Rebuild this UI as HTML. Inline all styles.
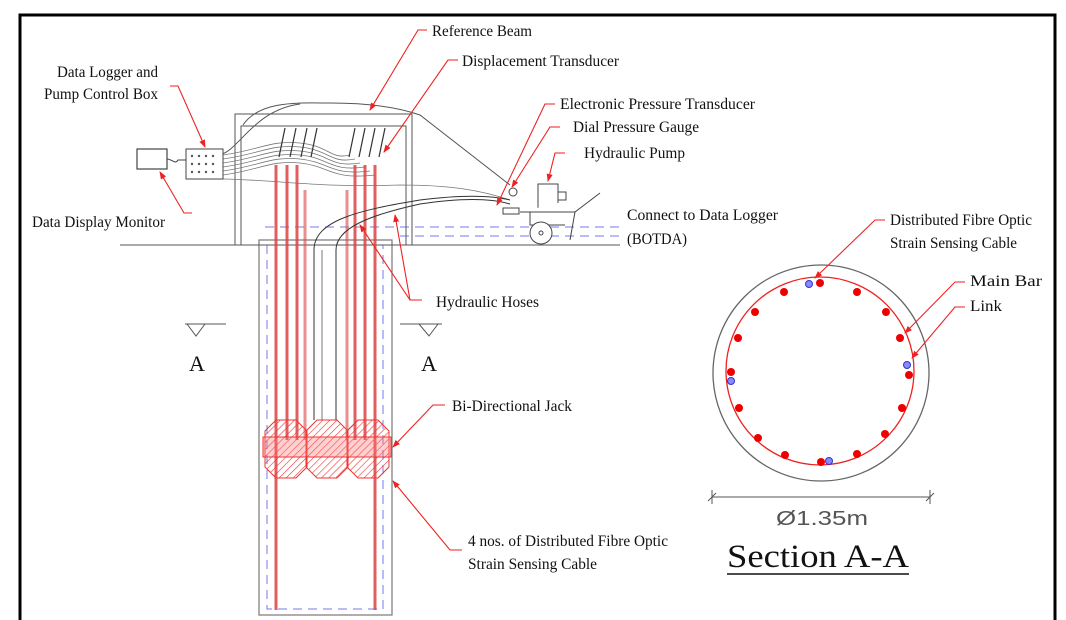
<!DOCTYPE html>
<html><head><meta charset="utf-8"><style>
html,body{margin:0;padding:0;background:#fff;}
svg{display:block;}
text{font-family:"Liberation Serif",serif;fill:#111;}
</style></head><body>
<svg width="1066" height="620" viewBox="0 0 1066 620" xmlns="http://www.w3.org/2000/svg">
<defs>
<pattern id="hatch" width="5" height="5" patternUnits="userSpaceOnUse" patternTransform="rotate(45)">
<line x1="0" y1="0" x2="0" y2="5" stroke="#e33" stroke-width="1.2"/>
</pattern>
<marker id="ar" markerWidth="8" markerHeight="6" refX="7" refY="3" orient="auto" markerUnits="userSpaceOnUse">
<path d="M0,0 L8,3 L0,6 z" fill="#e22"/>
</marker>
</defs>
<rect x="0" y="0" width="1066" height="620" fill="#fff"/>
<path d="M20,620 V15 H1055 V620" fill="none" stroke="#000" stroke-width="3"/>

<line x1="120" y1="245" x2="620" y2="245" stroke="#555" stroke-width="1"/>
<g stroke="#77e" stroke-width="1" stroke-dasharray="9,6" fill="none">
<line x1="265" y1="227" x2="620" y2="227"/>
<line x1="400" y1="236" x2="620" y2="236"/>
<path d="M267,245 V609 H383 V245"/>
</g>
<rect x="259" y="240" width="133" height="375" fill="none" stroke="#777" stroke-width="1.2"/>
<g fill="none" stroke="#555" stroke-width="1">
<rect x="235" y="114" width="177" height="131"/>
<path d="M241,245 V126 H406 V245"/>
<path d="M243,125 C260,100 300,103 330,103 C370,103 400,108 420,115 L510,185"/>
<path d="M222,154 C240,148 255,110 300,104"/>
</g>
<g fill="none" stroke="#777" stroke-width="0.8">
<path d="M223,155 C260,150 270,140 300,143 C330,146 330,160 350,155"/>
<path d="M223,159 C260,154 270,144 300,147 C330,150 330,164 355,159"/>
<path d="M223,163 C260,158 270,148 300,151 C330,154 330,168 360,163"/>
<path d="M223,167 C260,162 270,152 300,155 C330,158 330,172 365,167"/>
<path d="M223,171 C260,166 270,156 300,159 C330,162 330,176 370,171"/>
<path d="M223,175 C260,170 270,160 300,163 C330,166 330,180 375,175"/>
<path d="M223,179 C280,180 320,188 400,185 C450,185 480,190 510,200"/>
</g>
<g stroke="#333" stroke-width="1.2" fill="none">
<line x1="279" y1="157" x2="285" y2="128"/><line x1="290" y1="157" x2="296" y2="128"/>
<line x1="301" y1="157" x2="307" y2="128"/><line x1="311" y1="157" x2="317" y2="128"/>
<line x1="349" y1="157" x2="355" y2="128"/><line x1="359" y1="157" x2="365" y2="128"/>
<line x1="369" y1="157" x2="375" y2="128"/><line x1="379" y1="157" x2="385" y2="128"/>
</g>
<g stroke="#d44" fill="none" opacity="0.85">
<line x1="276" y1="165" x2="276" y2="610" stroke-width="3"/>
<line x1="287" y1="165" x2="287" y2="440" stroke-width="3"/>
<line x1="297" y1="165" x2="297" y2="440" stroke-width="3"/>
<line x1="305" y1="190" x2="305" y2="440" stroke-width="3" opacity=".7"/>
<line x1="347" y1="190" x2="347" y2="440" stroke-width="3" opacity=".7"/>
<line x1="355" y1="165" x2="355" y2="440" stroke-width="3"/>
<line x1="365" y1="165" x2="365" y2="440" stroke-width="3"/>
<line x1="375" y1="165" x2="375" y2="610" stroke-width="3"/>
</g>
<g fill="none" stroke="#333" stroke-width="1">
<path d="M314,420 V250 C314,220 360,210 420,200 C460,195 490,195 510,200"/>
<path d="M336,420 V250 C336,228 370,215 420,204 C460,198 490,198 510,204"/>
<line x1="322" y1="250" x2="322" y2="420" stroke="#777"/>
</g>
<g stroke="#e33" stroke-width="1" fill="url(#hatch)">
<path d="M276,420 H296 L307,431 V467 L296,478 H276 L265,467 V431 Z"/>
<path d="M317,420 H337 L348,431 V467 L337,478 H317 L306,467 V431 Z"/>
<path d="M358,420 H378 L389,431 V467 L378,478 H358 L347,467 V431 Z"/>
<rect x="263" y="437" width="128" height="20" fill="rgba(255,120,120,0.35)"/>
</g>
<rect x="137" y="149" width="30" height="20" fill="#fff" stroke="#444" stroke-width="1.2"/>
<path d="M167,159 C172,159 175,165 178,160 L186,160" fill="none" stroke="#444"/>
<rect x="186" y="149" width="37" height="30" fill="#fff" stroke="#444"/>
<g fill="#555">
<circle cx="192" cy="156" r="1.2"/><circle cx="199" cy="156" r="1.2"/><circle cx="206" cy="156" r="1.2"/><circle cx="213" cy="156" r="1.2"/>
<circle cx="192" cy="164" r="1.2"/><circle cx="199" cy="164" r="1.2"/><circle cx="206" cy="164" r="1.2"/><circle cx="213" cy="164" r="1.2"/>
<circle cx="192" cy="172" r="1.2"/><circle cx="199" cy="172" r="1.2"/><circle cx="206" cy="172" r="1.2"/><circle cx="213" cy="172" r="1.2"/>
</g>
<g fill="#fff" stroke="#444" stroke-width="1">
<rect x="538" y="184" width="20" height="24"/>
<rect x="558" y="192" width="8" height="8"/>
<rect x="503" y="208" width="16" height="6"/>
<circle cx="513" cy="192" r="4"/>
<path d="M520,212 H575 L600,193 M575,212 L570,240 M530,212 L530,225 H565"/>
<circle cx="541" cy="233" r="11"/>
<circle cx="541" cy="233" r="2"/>
</g>

<g stroke="#555" fill="none">
<line x1="185" y1="324" x2="226" y2="324"/><path d="M187,324 L196,336 L205,324"/>
<line x1="400" y1="324" x2="442" y2="324"/><path d="M419,324 L429,336 L438,324"/>
</g>
<text x="189" y="371" font-size="22">A</text>
<text x="421" y="371" font-size="22">A</text>

<circle cx="821" cy="373" r="108" fill="none" stroke="#666" stroke-width="1.3"/>
<circle cx="820" cy="371" r="94" fill="none" stroke="#e22" stroke-width="1.3"/>
<g fill="#e00">
<circle cx="820" cy="283" r="4"/><circle cx="784" cy="292" r="4"/><circle cx="857" cy="292" r="4"/>
<circle cx="755" cy="312" r="4"/><circle cx="886" cy="312" r="4"/>
<circle cx="738" cy="338" r="4"/><circle cx="900" cy="338" r="4"/>
<circle cx="731" cy="372" r="4"/><circle cx="909" cy="375" r="4"/>
<circle cx="739" cy="408" r="4"/><circle cx="902" cy="408" r="4"/>
<circle cx="758" cy="438" r="4"/><circle cx="885" cy="434" r="4"/>
<circle cx="785" cy="455" r="4"/><circle cx="857" cy="454" r="4"/>
<circle cx="821" cy="462" r="4"/>
</g>
<g fill="#88f" stroke="#33c" stroke-width="1">
<circle cx="809" cy="284" r="3.5"/><circle cx="907" cy="365" r="3.5"/>
<circle cx="731" cy="381" r="3.5"/><circle cx="829" cy="461" r="3.5"/>
</g>
<g stroke="#555" fill="none">
<line x1="712" y1="497" x2="930" y2="497"/>
<line x1="712" y1="490" x2="712" y2="504"/><line x1="930" y1="490" x2="930" y2="504"/>
<line x1="708" y1="501" x2="716" y2="493"/><line x1="926" y1="501" x2="934" y2="493"/>
</g>
<text x="776" y="525" font-size="20" fill="#555" style="font-family:'Liberation Sans',sans-serif;fill:#555" textLength="92" lengthAdjust="spacingAndGlyphs">Ø1.35m</text>
<text x="727" y="567" font-size="33" textLength="182" lengthAdjust="spacingAndGlyphs">Section A-A</text>
<line x1="727" y1="574" x2="909" y2="574" stroke="#111" stroke-width="1.5"/>

<g stroke="#e22" stroke-width="1.1" fill="none" marker-end="url(#ar)">
<path d="M427,30 H418 L370,110"/>
<path d="M458,60 H448 L384,152"/>
<path d="M170,86 H178 L205,147"/>
<path d="M192,213 H184 L160,172"/>
<path d="M555,104 H545 L497,205"/>
<path d="M560,127 H550 L512,187"/>
<path d="M565,153 H555 L548,181"/>
<path d="M422,300 H410 L360,225"/>
<path d="M422,300 H410 L395,215"/>
<path d="M445,405 H433 L393,447"/>
<path d="M462,550 H450 L393,481"/>
<path d="M885,220 H875 L815,278"/>
<path d="M965,282 H955 L905,333"/>
<path d="M965,307 H955 L912,358"/>
</g>

<g font-size="16" lengthAdjust="spacingAndGlyphs">
<text x="432" y="36" textLength="100" lengthAdjust="spacingAndGlyphs">Reference Beam</text>
<text x="462" y="66" textLength="157" lengthAdjust="spacingAndGlyphs">Displacement Transducer</text>
<text x="57" y="77" textLength="101" lengthAdjust="spacingAndGlyphs">Data Logger and</text>
<text x="44" y="99" textLength="114" lengthAdjust="spacingAndGlyphs">Pump Control Box</text>
<text x="32" y="227" textLength="133" lengthAdjust="spacingAndGlyphs">Data Display Monitor</text>
<text x="560" y="109" textLength="195" lengthAdjust="spacingAndGlyphs">Electronic Pressure Transducer</text>
<text x="573" y="132" textLength="126" lengthAdjust="spacingAndGlyphs">Dial Pressure Gauge</text>
<text x="584" y="158" textLength="101" lengthAdjust="spacingAndGlyphs">Hydraulic Pump</text>
<text x="627" y="220" textLength="151" lengthAdjust="spacingAndGlyphs">Connect to Data Logger</text>
<text x="627" y="244" textLength="60" lengthAdjust="spacingAndGlyphs">(BOTDA)</text>
<text x="436" y="307" textLength="103" lengthAdjust="spacingAndGlyphs">Hydraulic Hoses</text>
<text x="452" y="411" textLength="120" lengthAdjust="spacingAndGlyphs">Bi-Directional Jack</text>
<text x="468" y="546" textLength="200" lengthAdjust="spacingAndGlyphs">4 nos. of Distributed Fibre Optic</text>
<text x="468" y="569" textLength="129" lengthAdjust="spacingAndGlyphs">Strain Sensing Cable</text>
<text x="890" y="225" textLength="142" lengthAdjust="spacingAndGlyphs">Distributed Fibre Optic</text>
<text x="890" y="248" textLength="127" lengthAdjust="spacingAndGlyphs">Strain Sensing Cable</text>
<text x="970" y="286" textLength="72" lengthAdjust="spacingAndGlyphs">Main Bar</text>
<text x="970" y="311" textLength="32" lengthAdjust="spacingAndGlyphs">Link</text>
</g>
</svg>
</body></html>
